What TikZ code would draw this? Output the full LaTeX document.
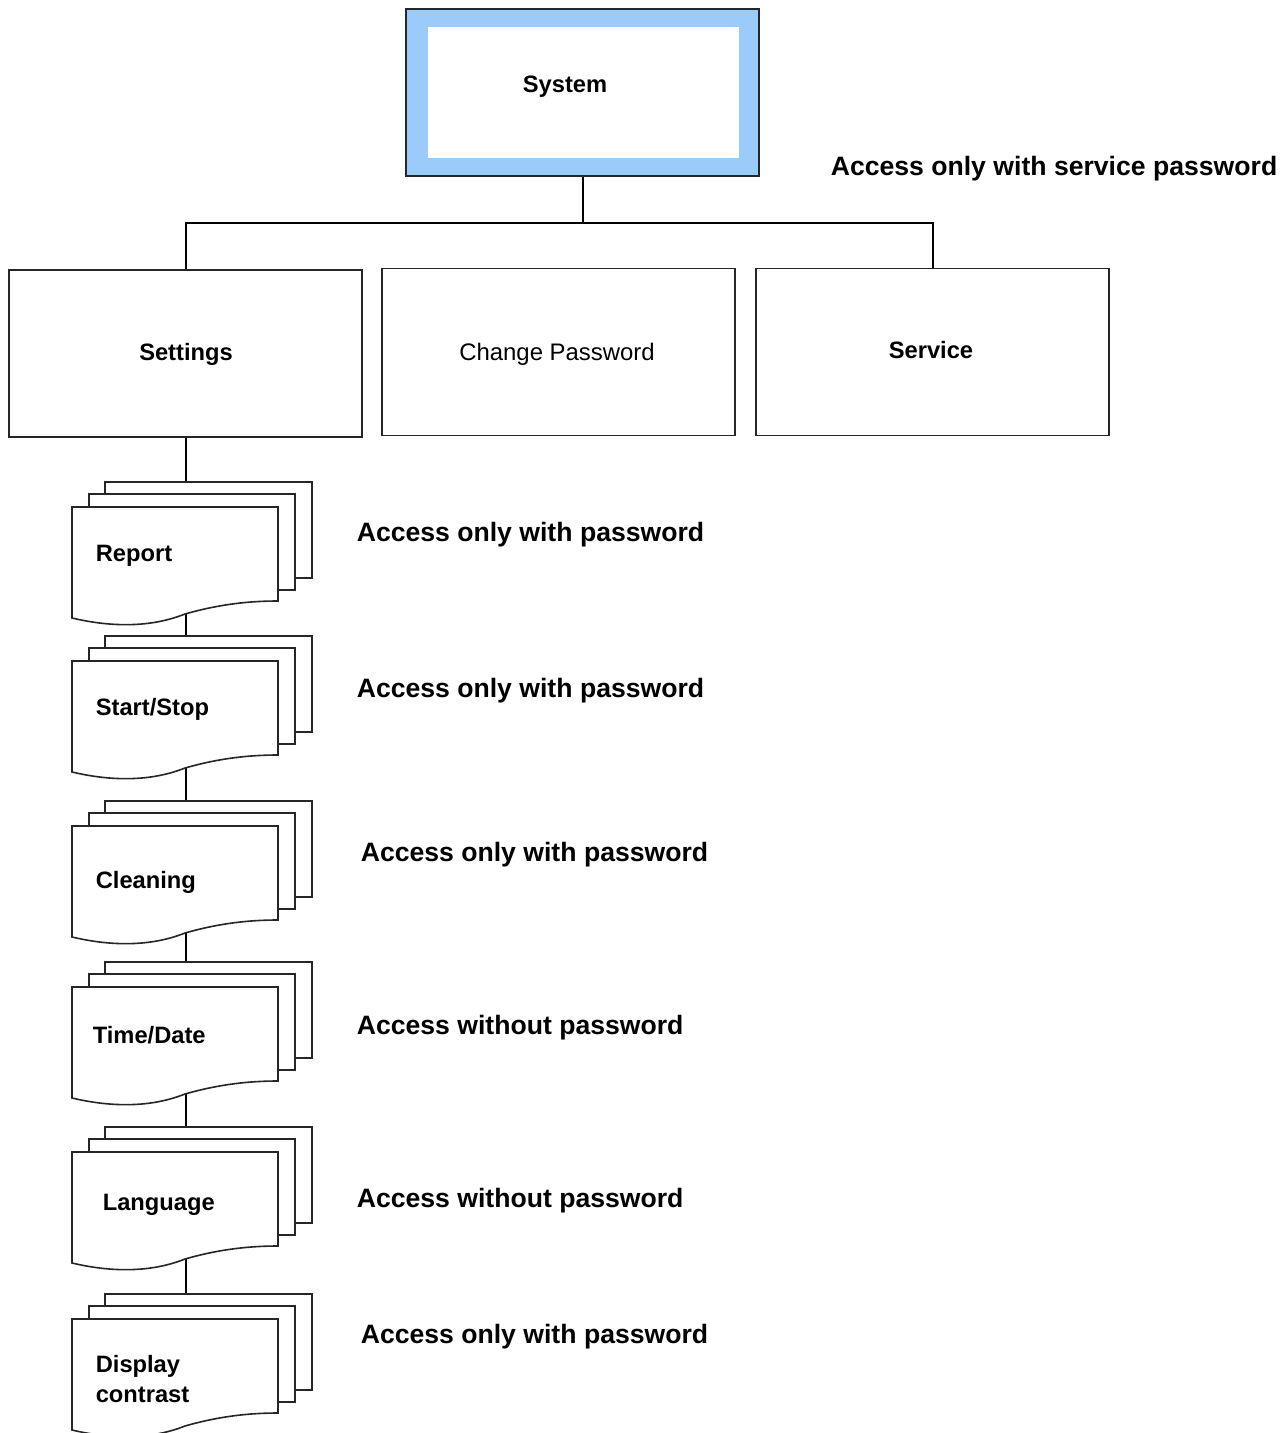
\documentclass[tikz,border=0pt]{standalone}
\usepackage{fontspec}
\setmainfont{Liberation Sans}
\definecolor{sysblue}{RGB}{155,203,250}
\tikzset{
  every path/.style={line width=1.6pt},
  box/.style={draw=black!85, fill=white, line width=1.6pt, minimum width=353pt, minimum height=167pt, inner sep=0pt},
  lbl/.style={font=\bfseries\fontsize{23.7}{30}\selectfont, inner sep=0pt, anchor=base west, align=left},
  acc/.style={font=\bfseries\fontsize{26.6}{32}\selectfont, inner sep=0pt, anchor=base west},
  page/.style={draw=black!85, fill=white, line width=1.6pt},
  conn/.style={draw=black, line width=2pt}
}
\newcommand\docstack[1]{%
  \path[page] (105,#1-25) rectangle (312,#1+71);
  \path[page] (89,#1-13) rectangle (295,#1+83);
  \path[page] (72,#1) -- (278,#1) -- (278,#1+94)
     .. controls (250,#1+94) and (220,#1+97) .. (185,#1+107)
     .. controls (150,#1+121) and (110,#1+120) .. (72,#1+111) -- cycle;
}
\begin{document}
\begin{tikzpicture}[x=1pt,y=-1pt]
\useasboundingbox (0,0) rectangle (1288,1433);
% System
\node[draw=black!85, fill=sysblue, line width=1.6pt, minimum width=353pt, minimum height=167pt, inner sep=0pt] (system) at (582.5,92.5) {};
\fill[white] (428,27) rectangle (739,158);
\node[lbl, anchor=base] (systxt) at (565,92.5) {System};
% level 1 boxes
\node[box] (settings) at (185.5,353.5) {};
\node[box] (changepw) at (558.5,352) {};
\node[box] (service) at (932.5,352) {};
\node[lbl, anchor=base] at (186,360.5) {Settings};
\node[font=\fontsize{23.9}{30}\selectfont, inner sep=0pt, anchor=base] at (557,360.5) {Change Password};
\node[lbl, anchor=base] at (931,358.5) {Service};
\node[acc] (acc0) at (830,175.5) {Access only with service password};
% tree connectors
\coordinate (junction) at (582.5,223);
\draw[conn] (system.south) -- (junction);
\draw[conn] (junction) -| (settings.north);
\draw[conn] (junction) -| (service.north);
% settings vertical spine (drawn behind pages)
\coordinate (spineend) at (185.5,1310);
\draw[conn] (settings.south) -- (spineend);
% document stacks
\docstack{507}
\docstack{661}
\docstack{826}
\docstack{987}
\docstack{1152}
\docstack{1319}
\node[lbl] (report) at (95,561.5) {Report};
\node[lbl] (startstop) at (95,715.5) {Start/Stop};
\node[lbl] (cleaning) at (95,888.5) {Cleaning};
\node[lbl] (timedate) at (92,1043.5) {Time/Date};
\node[lbl] (language) at (102,1210.5) {Language};
\node[lbl] (display) at (95,1402.5) {Display\\contrast};
% access labels
\node[acc] (acc1) at (356,541.5) {Access only with password};
\node[acc] (acc2) at (356,697.5) {Access only with password};
\node[acc] (acc3) at (360,861.5) {Access only with password};
\node[acc] (acc4) at (356,1034.5) {Access without password};
\node[acc] (acc5) at (356,1207.5) {Access without password};
\node[acc] (acc6) at (360,1343.5) {Access only with password};
\end{tikzpicture}
\end{document}
